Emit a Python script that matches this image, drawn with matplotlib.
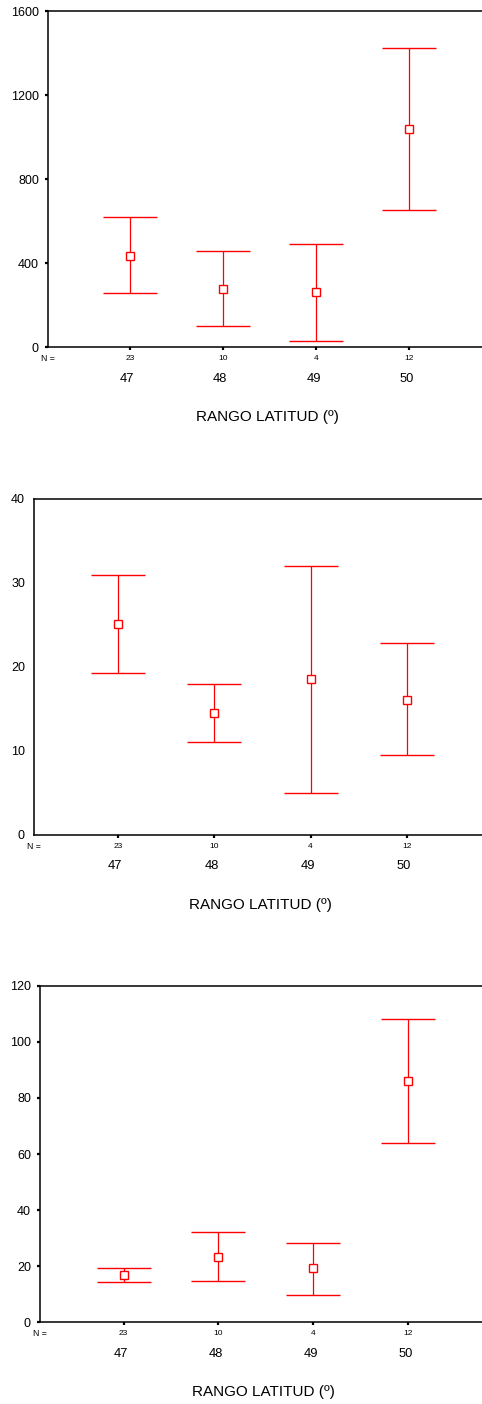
import matplotlib

matplotlib.use("Agg")
import matplotlib.pyplot as plt

plt.rcParams["font.family"] = ["Liberation Sans", "DejaVu Sans"]

categories = ["47", "48", "49", "50"]
n_counts = [23, 10, 4, 12]
x_label = "RANGO LATITUD (º)"

# panel 1
mean_1 = [435, 278, 260, 1037]
low_1 = [256, 100, 27, 652]
high_1 = [619, 457, 490, 1422]
yticks_1 = [0, 400, 800, 1200, 1600]

# panel 2
mean_2 = [25.1, 14.5, 18.6, 16.05]
low_2 = [19.3, 11.0, 5.0, 9.5]
high_2 = [30.9, 17.9, 32.0, 22.8]
yticks_2 = [0, 10, 20, 30, 40]

# panel 3
mean_3 = [16.75, 23.4, 19.2, 86.0]
low_3 = [14.3, 14.6, 9.6, 63.9]
high_3 = [19.2, 32.2, 28.4, 108.2]
yticks_3 = [0, 20, 40, 60, 80, 100, 120]

RED = "#ff0000"

panels = [
    # rect, xlim, data, ticks, y tick length, y tick pad
    ([0.0996, 0.7528, 0.9004, 0.2393], (0.119, 4.78), (mean_1, low_1, high_1), yticks_1, 2.5, 4),
    ([0.0705, 0.4055, 0.9295, 0.2391], (0.127, 4.78), (mean_2, low_2, high_2), yticks_2, 0, 6.5),
    ([0.0830, 0.0582, 0.9170, 0.2397], (0.117, 4.78), (mean_3, low_3, high_3), yticks_3, 2.5, 4),
]

fig = plt.figure(figsize=(4.82, 14.04), dpi=100)

for rect, xlim, (mean, low, high), yticks, ylen, ypad in panels:
    ax = fig.add_axes(rect)
    xs = list(range(1, len(categories) + 1))
    yerr = [
        [m - lo for m, lo in zip(mean, low)],
        [hi - m for m, hi in zip(mean, high)],
    ]
    ax.errorbar(
        xs, mean, yerr=yerr, fmt="s", color=RED, ecolor=RED,
        elinewidth=0.9, capsize=19.5, capthick=0.9,
        markersize=5.5, markerfacecolor="white", markeredgecolor=RED,
        markeredgewidth=1.0,
    )
    ax.set_xlim(*xlim)
    ax.set_ylim(yticks[0], yticks[-1])
    ax.set_yticks(yticks)
    ax.set_yticklabels([str(t) for t in yticks], fontsize=9)
    ax.set_xticks(xs)
    ax.set_xticklabels([])
    ax.tick_params(axis="y", length=ylen, width=1.6, pad=ypad)
    ax.tick_params(axis="x", length=2.5, width=1.6)
    ax.spines["right"].set_visible(False)
    for side in ("left", "bottom", "top"):
        ax.spines[side].set_linewidth(1.1)

    trans = ("data", "axes fraction")
    ax.annotate("N =", xy=(xlim[0], 0), xycoords=trans, xytext=(0, -8.4),
                textcoords="offset points", ha="center", va="center", fontsize=6.3)
    for x, n, cat in zip(xs, n_counts, categories):
        ax.annotate(str(n), xy=(x, 0), xycoords=trans, xytext=(0, -8.4),
                    textcoords="offset points", ha="center", va="center", fontsize=6)
        ax.annotate(cat, xy=(x, 0), xycoords=trans, xytext=(-2, -22.8),
                    textcoords="offset points", ha="center", va="center", fontsize=9.3)
    ax.annotate(x_label, xy=(0.5, 0), xycoords="axes fraction", xytext=(2, -50.4),
                textcoords="offset points", ha="center", va="center", fontsize=11)

fig.savefig("out.png", dpi=100)
